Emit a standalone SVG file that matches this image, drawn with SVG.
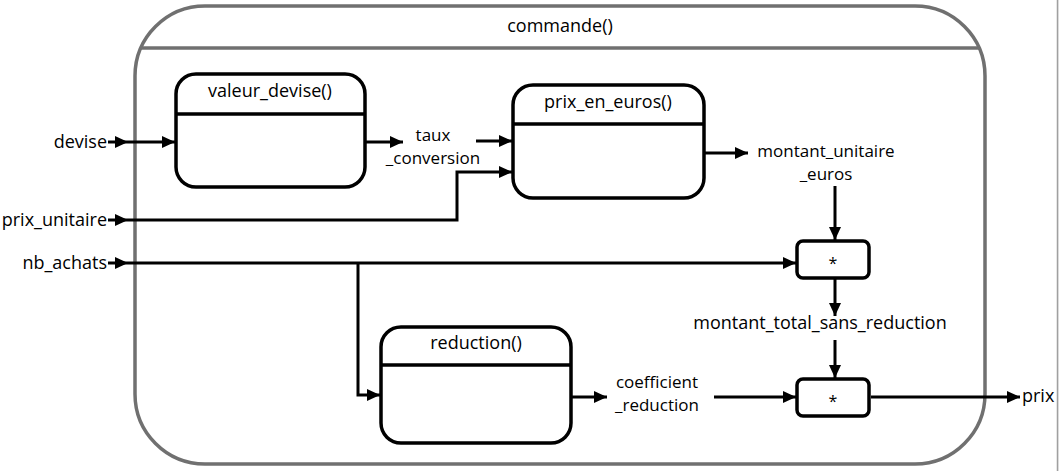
<svg xmlns="http://www.w3.org/2000/svg" width="1059" height="471" viewBox="0 0 1059 471">
<defs>
<marker id="ah" markerUnits="userSpaceOnUse" markerWidth="14" markerHeight="12" refX="13" refY="6" orient="auto">
<path d="M0,0 L13,6 L0,12 z" fill="#000"/>
</marker>
<style>
text{font-family:"Open Sans","DejaVu Sans",sans-serif;font-size:18px;fill:#000}
.c{text-anchor:middle}
.r{text-anchor:end}
.two{font-size:17px}
.box{fill:#fff;stroke:#000;stroke-width:3.5}
.hd{stroke:#000;stroke-width:3.5}
.cn{fill:none;stroke:#000;stroke-width:3;marker-end:url(#ah)}
</style>
</defs>
<rect x="0" y="0" width="1059" height="471" fill="#fff"/>
<rect x="1058" y="0" width="1" height="471" fill="#f0f0f0"/>
<line x1="1057.5" y1="0" x2="1057.5" y2="471" stroke="#a0a0a0" stroke-width="1.5"/>

<g id="commande">
<rect x="135" y="6" width="850" height="458" rx="70" fill="none" stroke="#707070" stroke-width="3.5"/>
<line x1="141" y1="48" x2="979" y2="48" stroke="#707070" stroke-width="3.5"/>
<text class="c" x="560" y="32">commande()</text>
</g>

<g id="valeur_devise">
<rect class="box" x="176" y="74" width="189" height="113" rx="20"/>
<line class="hd" x1="176" y1="114" x2="365" y2="114"/>
<text class="c" x="270" y="97">valeur_devise()</text>
</g>

<g id="prix_en_euros">
<rect class="box" x="513" y="85" width="191" height="113" rx="20"/>
<line class="hd" x1="513" y1="124" x2="704" y2="124"/>
<text class="c" x="608" y="108">prix_en_euros()</text>
</g>

<g id="reduction">
<rect class="box" x="381" y="327" width="190" height="116" rx="20"/>
<line class="hd" x1="381" y1="365" x2="571" y2="365"/>
<text class="c" x="476" y="349">reduction()</text>
</g>

<g id="mult1">
<rect class="box" x="797" y="241" width="72" height="37" rx="6"/>
<text class="c" x="833" y="269" style="font-size:16px">*</text>
</g>

<g id="mult2">
<rect class="box" x="797" y="379" width="72" height="37" rx="6"/>
<text class="c" x="833" y="407" style="font-size:16px">*</text>
</g>

<g id="labels">
<text class="r" x="107" y="148">devise</text>
<text class="r" x="107" y="226">prix_unitaire</text>
<text class="r" x="107" y="269">nb_achats</text>
<text class="c two" x="433" y="141">taux</text>
<text class="c two" x="433" y="164">_conversion</text>
<text class="c two" x="826" y="157">montant_unitaire</text>
<text class="c two" x="826" y="180">_euros</text>
<text class="c" x="820" y="329">montant_total_sans_reduction</text>
<text class="c two" x="657" y="388">coefficient</text>
<text class="c two" x="657" y="411">_reduction</text>
<text x="1022" y="402">prix</text>
</g>

<g id="connectors">
<path class="cn" d="M108,142 L128,142"/>
<path class="cn" d="M128,142 L175,142"/>
<path class="cn" d="M365,142 L403,142"/>
<path class="cn" d="M476,141 L512,141"/>
<path class="cn" d="M108,220 L128,220"/>
<path class="cn" d="M128,220 L457,220 L457,172 L512,172"/>
<path class="cn" d="M108,263 L128,263"/>
<path class="cn" d="M128,263 L796,263"/>
<path class="cn" d="M358,263 L358,395 L380,395"/>
<path class="cn" d="M704,153 L748,153"/>
<path class="cn" d="M835,186 L835,240"/>
<path class="cn" d="M835,278 L835,316"/>
<path class="cn" d="M835,340 L835,378"/>
<path class="cn" d="M571,397 L607,397"/>
<path class="cn" d="M714,397 L796,397"/>
<path class="cn" d="M871,397 L1020,397"/>
</g>
</svg>
